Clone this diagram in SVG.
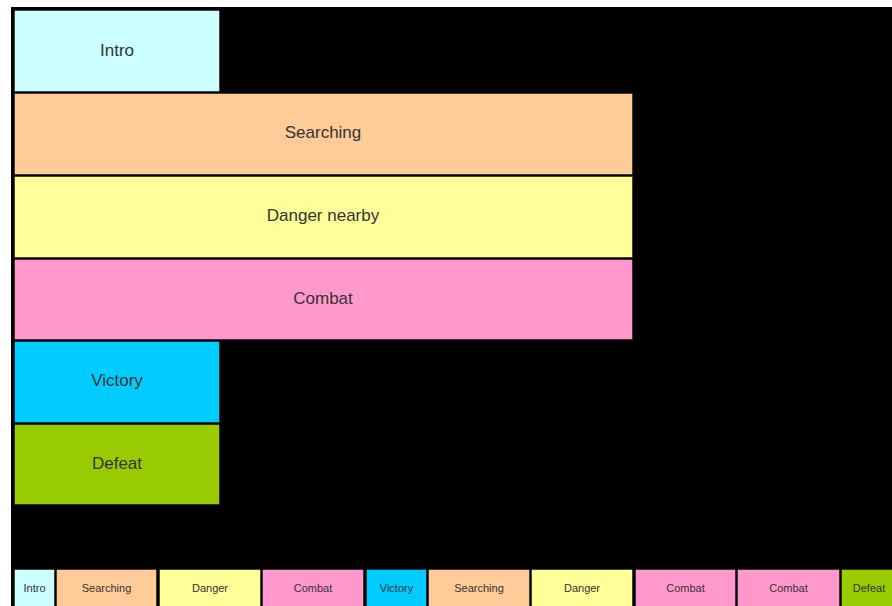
<svg xmlns="http://www.w3.org/2000/svg" width="892" height="606" viewBox="0 0 892 606">
<style>
.b{stroke:#000;stroke-opacity:0.45;stroke-width:1}
.t{font-family:"Liberation Sans",Arial,sans-serif;font-size:17px;fill:#333;text-anchor:middle;dominant-baseline:central}
.s{font-family:"Liberation Sans",Arial,sans-serif;font-size:11px;fill:#333;text-anchor:middle;dominant-baseline:central}
.intro{fill:#CCFFFF}.search{fill:#FFCC99}.danger{fill:#FFFF99}.combat{fill:#FF99CC}.victory{fill:#00CCFF}.defeat{fill:#99CC00}
</style>
<rect x="0" y="0" width="892" height="606" fill="#fff"/>
<rect x="11" y="7" width="881" height="599" fill="#000"/>
<g id="intro"><rect class="b intro" x="14.5" y="10.5" width="205" height="81"/><text class="t" x="117" y="50">Intro</text></g>
<g id="searching"><rect class="b search" x="14.5" y="93.5" width="618" height="81"/><text class="t" x="323" y="132.5">Searching</text></g>
<g id="danger"><rect class="b danger" x="14.5" y="176.5" width="618" height="81"/><text class="t" x="323" y="215">Danger nearby</text></g>
<g id="combat"><rect class="b combat" x="14.5" y="259.5" width="618" height="80"/><text class="t" x="323" y="298">Combat</text></g>
<g id="victory"><rect class="b victory" x="14.5" y="341.5" width="205" height="81"/><text class="t" x="117" y="380">Victory</text></g>
<g id="defeat"><rect class="b defeat" x="14.5" y="424.5" width="205" height="80"/><text class="t" x="117" y="463">Defeat</text></g>
<g id="timeline">
<g id="t1"><rect class="b intro" x="14.5" y="569.5" width="40" height="40"/><text class="s" x="34.5" y="588">Intro</text></g>
<g id="t2"><rect class="b search" x="56.5" y="569.5" width="100" height="40"/><text class="s" x="106.5" y="588">Searching</text></g>
<g id="t3"><rect class="b danger" x="159.5" y="569.5" width="101" height="40"/><text class="s" x="210" y="588">Danger</text></g>
<g id="t4"><rect class="b combat" x="262.5" y="569.5" width="101" height="40"/><text class="s" x="313" y="588">Combat</text></g>
<g id="t5"><rect class="b victory" x="366.5" y="569.5" width="60" height="40"/><text class="s" x="396.5" y="588">Victory</text></g>
<g id="t6"><rect class="b search" x="428.5" y="569.5" width="101" height="40"/><text class="s" x="479" y="588">Searching</text></g>
<g id="t7"><rect class="b danger" x="531.5" y="569.5" width="101" height="40"/><text class="s" x="582" y="588">Danger</text></g>
<g id="t8"><rect class="b combat" x="635.5" y="569.5" width="100" height="40"/><text class="s" x="685.5" y="588">Combat</text></g>
<g id="t9"><rect class="b combat" x="737.5" y="569.5" width="102" height="40"/><text class="s" x="788.5" y="588">Combat</text></g>
<g id="t10"><rect class="b defeat" x="841.5" y="569.5" width="52" height="40"/><text class="s" x="869" y="588">Defeat</text></g>
</g>
</svg>
